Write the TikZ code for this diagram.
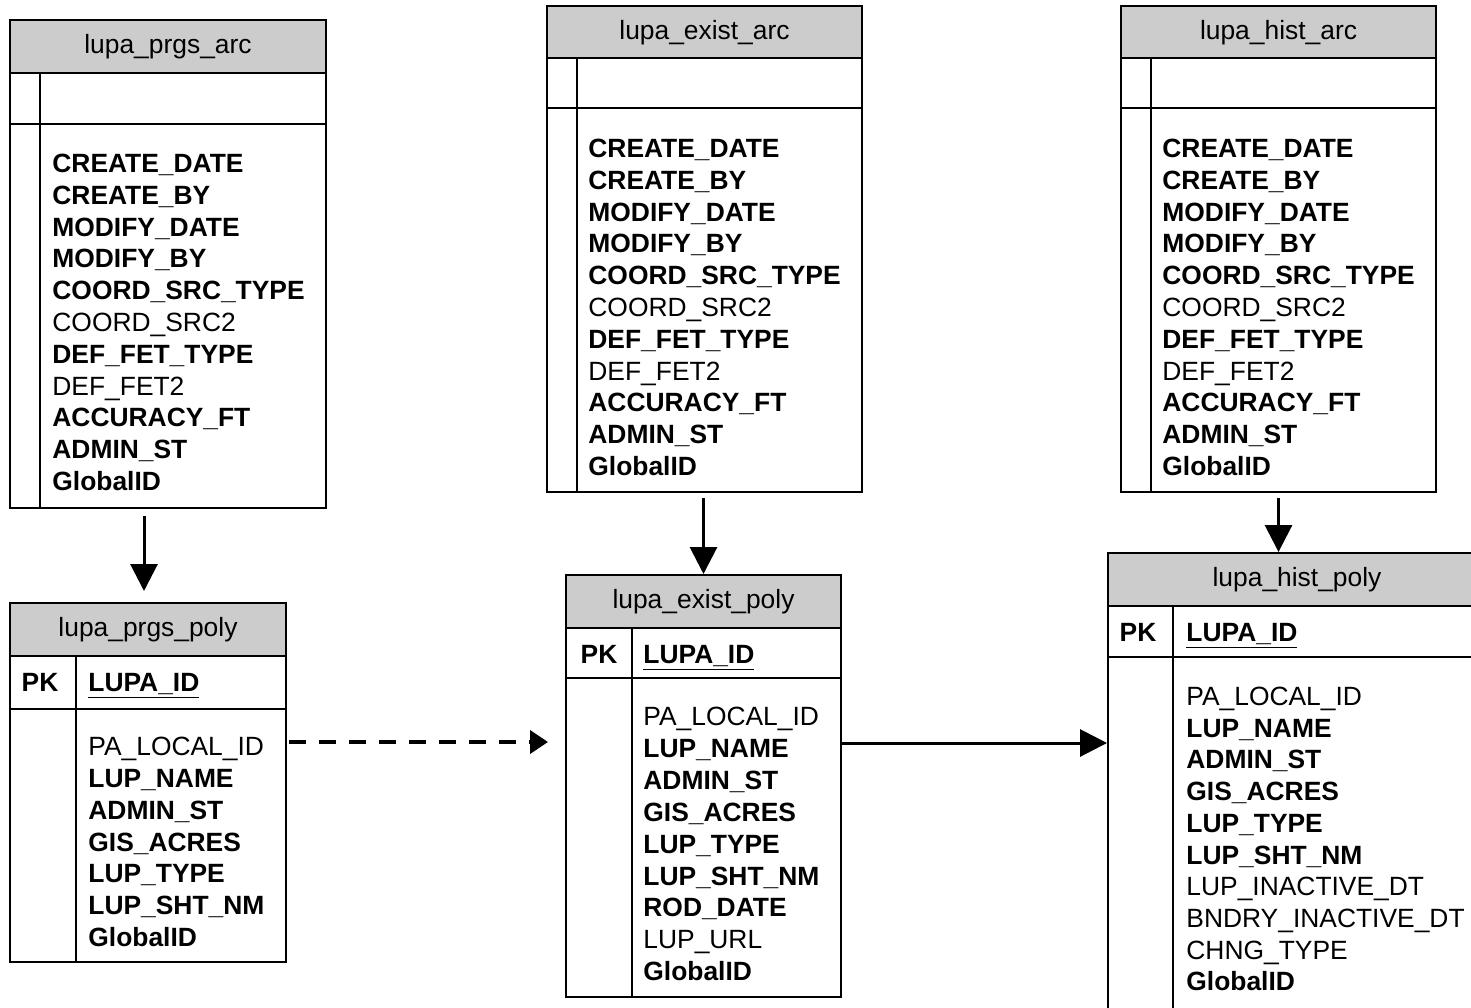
\documentclass[tikz,border=0pt]{standalone}
\usepackage{fontspec}
\setmainfont{Liberation Sans}
\usetikzlibrary{arrows.meta,fit}
\definecolor{hdrgray}{RGB}{204,204,204}
\tikzset{
  tline/.style={line width=1pt},
  tbl/.style={draw, line width=1pt, inner sep=0pt},
  hdr/.style={fill=hdrgray},
  ttl/.style={anchor=base, inner sep=0pt, font=\fontsize{13.2}{15.9}\selectfont},
  fld/.style={anchor=base west, inner sep=0pt, font=\fontsize{13.2}{15.9}\selectfont},
  conn/.style={line width=1.5pt, -{Triangle[length=13.5pt,width=13.5pt]}},
  dconn/.style={line width=1.9pt, dash pattern=on 8.5pt off 6.5pt, -{Triangle[length=9pt,width=11.5pt]}},
}
\newcommand\fieldlist[5]{%
  \foreach \t [count=\i] in {#5} {\node[fld] (#1\i) at (#2, {#3+#4*(\i-1)}) {\t};}}
\begin{document}
\begin{tikzpicture}[x=0.5pt,y=-0.5pt]
\useasboundingbox (0,0) rectangle (1471,1007);
\clip (0,0) rectangle (1471,1007);
\fill[white] (0,0) rectangle (1471,1007);

% ---------- lupa_prgs_arc ----------
\fill[hdr] (10,20) rectangle (326,73);
\draw[tline] (10,73) -- (326,73) (10,124) -- (326,124) (40,73) -- (40,508);
\node[tbl, fit={(10,20) (326,508)}] (A) {};
\node[ttl] (At) at (168,53.5) {lupa\_prgs\_arc};
\fieldlist{A}{52}{172.5}{31.8}{{\textbf{CREATE\_DATE}},{\textbf{CREATE\_BY}},{\textbf{MODIFY\_DATE}},{\textbf{MODIFY\_BY}},{\textbf{COORD\_SRC\_TYPE}},{COORD\_SRC2},{\textbf{DEF\_FET\_TYPE}},{DEF\_FET2},{\textbf{ACCURACY\_FT}},{\textbf{ADMIN\_ST}},{\textbf{GlobalID}}}

% ---------- lupa_prgs_poly ----------
\fill[hdr] (10,603) rectangle (286,656);
\draw[tline] (10,656) -- (286,656) (10,709) -- (286,709) (76,656) -- (76,962);
\node[tbl, fit={(10,603) (286,962)}] (B) {};
\node[ttl] (Bt) at (148,636.5) {lupa\_prgs\_poly};
\node[ttl] (Bpk) at (40,691.5) {\textbf{PK}};
\node[fld] (Bid) at (88,691.5) {\underline{\textbf{LUPA\_ID}}};
\fieldlist{B}{88}{755.5}{31.83}{{PA\_LOCAL\_ID},{\textbf{LUP\_NAME}},{\textbf{ADMIN\_ST}},{\textbf{GIS\_ACRES}},{\textbf{LUP\_TYPE}},{\textbf{LUP\_SHT\_NM}},{\textbf{GlobalID}}}

% ---------- lupa_exist_arc ----------
\fill[hdr] (547,6) rectangle (862,58);
\draw[tline] (547,58) -- (862,58) (547,108) -- (862,108) (577,58) -- (577,492);
\node[tbl, fit={(547,6) (862,492)}] (C) {};
\node[ttl] (Ct) at (704.5,39.5) {lupa\_exist\_arc};
\fieldlist{C}{588}{157.5}{31.8}{{\textbf{CREATE\_DATE}},{\textbf{CREATE\_BY}},{\textbf{MODIFY\_DATE}},{\textbf{MODIFY\_BY}},{\textbf{COORD\_SRC\_TYPE}},{COORD\_SRC2},{\textbf{DEF\_FET\_TYPE}},{DEF\_FET2},{\textbf{ACCURACY\_FT}},{\textbf{ADMIN\_ST}},{\textbf{GlobalID}}}

% ---------- lupa_exist_poly ----------
\fill[hdr] (566,575) rectangle (841,628);
\draw[tline] (566,628) -- (841,628) (566,678) -- (841,678) (632,628) -- (632,997);
\node[tbl, fit={(566,575) (841,997)}] (D) {};
\node[ttl] (Dt) at (703.5,608.5) {lupa\_exist\_poly};
\node[ttl] (Dpk) at (599,663.5) {\textbf{PK}};
\node[fld] (Did) at (643,663.5) {\underline{\textbf{LUPA\_ID}}};
\fieldlist{D}{643}{725.5}{31.9}{{PA\_LOCAL\_ID},{\textbf{LUP\_NAME}},{\textbf{ADMIN\_ST}},{\textbf{GIS\_ACRES}},{\textbf{LUP\_TYPE}},{\textbf{LUP\_SHT\_NM}},{\textbf{ROD\_DATE}},{LUP\_URL},{\textbf{GlobalID}}}

% ---------- lupa_hist_arc ----------
\fill[hdr] (1121,6) rectangle (1436,58);
\draw[tline] (1121,58) -- (1436,58) (1121,108) -- (1436,108) (1151,58) -- (1151,492);
\node[tbl, fit={(1121,6) (1436,492)}] (E) {};
\node[ttl] (Et) at (1278.5,39.5) {lupa\_hist\_arc};
\fieldlist{E}{1162}{157.5}{31.8}{{\textbf{CREATE\_DATE}},{\textbf{CREATE\_BY}},{\textbf{MODIFY\_DATE}},{\textbf{MODIFY\_BY}},{\textbf{COORD\_SRC\_TYPE}},{COORD\_SRC2},{\textbf{DEF\_FET\_TYPE}},{DEF\_FET2},{\textbf{ACCURACY\_FT}},{\textbf{ADMIN\_ST}},{\textbf{GlobalID}}}

% ---------- lupa_hist_poly ----------
\fill[hdr] (1108,553) rectangle (1490,606);
\draw[tline] (1108,606) -- (1490,606) (1108,657) -- (1490,657) (1173,606) -- (1173,1030);
\node[tbl, fit={(1108,553) (1490,1030)}] (F) {};
\node[ttl] (Ft) at (1297,586.5) {lupa\_hist\_poly};
\node[ttl] (Fpk) at (1138,641.5) {\textbf{PK}};
\node[fld] (Fid) at (1186,641.5) {\underline{\textbf{LUPA\_ID}}};
\fieldlist{F}{1186}{705.5}{31.7}{{PA\_LOCAL\_ID},{\textbf{LUP\_NAME}},{\textbf{ADMIN\_ST}},{\textbf{GIS\_ACRES}},{\textbf{LUP\_TYPE}},{\textbf{LUP\_SHT\_NM}},{LUP\_INACTIVE\_DT},{BNDRY\_INACTIVE\_DT},{CHNG\_TYPE},{\textbf{GlobalID}}}

% ---------- connectors ----------
\coordinate (dy) at (0,742);
\coordinate (sy) at (0,743);
\draw[conn, shorten <=3.5pt, shorten >=5.5pt] ([xshift=-2pt]B.north |- A.south) -- ([xshift=-2pt]B.north);
\draw[conn, shorten <=2.5pt] (D.north |- C.south) -- (D.north);
\draw[conn, shorten <=2.5pt] (E.south) -- (E.south |- F.north);
\draw[dconn, shorten <=1pt, shorten >=8.5pt] (B.east |- dy) -- (D.west |- dy);
\draw[conn] (D.east |- sy) -- (F.west |- sy);
\end{tikzpicture}
\end{document}
